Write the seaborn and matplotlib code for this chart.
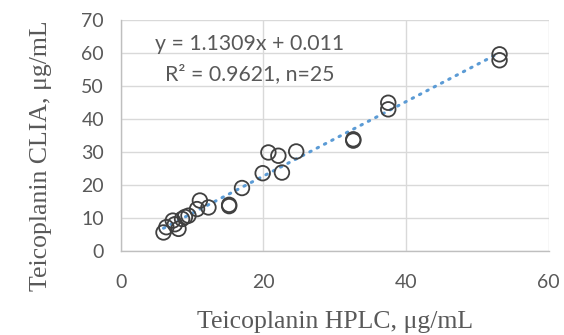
import matplotlib
matplotlib.use("Agg")
import matplotlib.pyplot as plt
import seaborn as sns
import numpy as np
import pandas as pd

hplc = [6.0, 6.4, 7.3, 8.1, 8.6, 9.5, 10.7, 11.1, 12.3, 15.2, 15.2, 17.0,
        19.9, 20.7, 22.1, 22.6, 24.6, 32.6, 32.6, 37.5, 37.5, 53.1, 53.1, 7.6, 9.0]
clia = [5.5, 7.1, 9.1, 6.6, 9.6, 10.6, 12.6, 15.2, 13.1, 13.9, 13.5, 19.0,
        23.5, 29.8, 28.8, 23.7, 30.1, 33.8, 33.4, 44.9, 42.9, 59.6, 57.8, 8.0, 10.2]
slope = 1.1309
intercept = 0.011
eq_lines = ["y = 1.1309x + 0.011", "R² = 0.9621, n=25"]
x_ticks = [0, 20, 40, 60]
y_ticks = [0, 10, 20, 30, 40, 50, 60, 70]

df = pd.DataFrame({"HPLC": hplc, "CLIA": clia})

sns.set_theme(style="white")
plt.rcParams['font.family'] = ['Lato', 'DejaVu Sans']

fig = plt.figure(figsize=(5.64, 3.35), dpi=100)
ax = fig.add_axes([0.214, 0.252, 0.759, 0.688])

# trendline
xl = np.array([min(hplc), max(hplc)])
ax.plot(xl, slope * xl + intercept, color="#5b9bd5", lw=2.2,
        linestyle=(0, (0.5, 2.2)), dash_capstyle="round", zorder=2)

sns.scatterplot(data=df, x="HPLC", y="CLIA", ax=ax, marker="o", s=110,
                facecolor="none", edgecolor="#404040", linewidth=1.3, zorder=3)

ax.set_xlim(0, 60)
ax.set_ylim(0, 70)
ax.set_xticks(x_ticks)
ax.set_yticks(y_ticks)
ax.grid(True, color="#d9d9d9", lw=1.0)
ax.set_axisbelow(True)
for s in ["top", "right"]:
    ax.spines[s].set_visible(False)
for s in ["left", "bottom"]:
    ax.spines[s].set_color("#bfbfbf")
    ax.spines[s].set_linewidth(1.0)
ax.tick_params(axis="both", length=0, labelsize=14, colors="#595959")
ax.tick_params(axis="x", pad=17)
ax.tick_params(axis="y", pad=12)

ax.set_xlabel("Teicoplanin HPLC, μg/mL", fontsize=18.5, color="#595959",
              family=["Liberation Serif", "DejaVu Serif"], labelpad=14)
ax.set_ylabel("Teicoplanin CLIA, μg/mL", fontsize=18.5, color="#595959",
              family=["Liberation Serif", "DejaVu Serif"], labelpad=20)
ax.yaxis.set_label_coords(-0.16, 0.41)

ax.text(18.1, 62.7, eq_lines[0], fontsize=15.3, color="#595959", ha="center", va="center")
ax.text(18.1, 53.6, eq_lines[1], fontsize=15.3, color="#595959", ha="center", va="center")

fig.savefig("out.png", dpi=100)
